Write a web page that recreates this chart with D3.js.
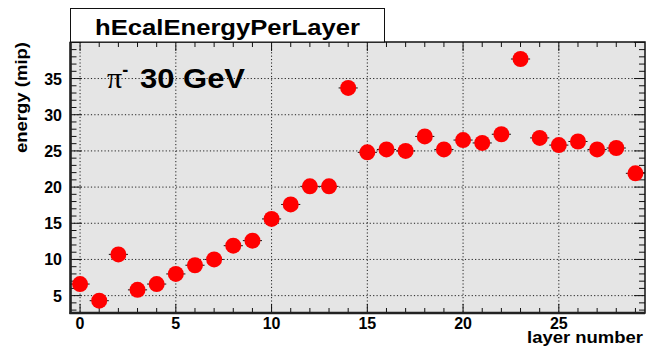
<!DOCTYPE html>
<html>
<head>
<meta charset="utf-8">
<script src="https://cdn.jsdelivr.net/npm/d3@7"></script>
<style>
  body { margin: 0; background: #fff; }
  text { font-family: "Liberation Sans", Arial, sans-serif; font-weight: bold; }
</style>
</head>
<body>
<div id="chart"></div>
<script>
// layer index and energy per layer (mip)
const layers = d3.range(0, 30);
const energy = [6.6, 4.3, 10.7, 5.8, 6.6, 8.0, 9.2, 10.0, 11.9, 12.6,
  15.6, 17.6, 20.1, 20.1, 33.7, 24.8, 25.2, 25.0, 27.0, 25.2,
  26.5, 26.1, 27.3, 37.7, 26.8, 25.8, 26.3, 25.2, 25.4, 21.9];
const xTicks = [0, 5, 10, 15, 20, 25];
const yTicks = [5, 10, 15, 20, 25, 30, 35];

const width = 647, height = 348;
const fLeft = 70.5, fRight = 645, fTop = 42, fBottom = 313;

const svg = d3.select('#chart')
  .append('svg')
  .attr('width', width)
  .attr('height', height);

const x = d3.scaleLinear().domain([-0.5, 29.5]).range([fLeft, fRight]);
const y = d3.scaleLinear().domain([2.6, 40.05]).range([fBottom, fTop]);

// frame background
svg.append('rect')
  .attr('x', fLeft).attr('y', fTop)
  .attr('width', fRight - fLeft).attr('height', fBottom - fTop)
  .attr('fill', '#e5e5e5');

// dotted grid at major ticks
svg.append('g')
  .selectAll('line')
  .data(xTicks)
  .enter()
  .append('line')
  .attr('x1', d => x(d)).attr('x2', d => x(d))
  .attr('y1', fTop).attr('y2', fBottom)
  .attr('stroke', '#222').attr('stroke-width', 1)
  .attr('stroke-dasharray', '1.2,2.2');

svg.append('g')
  .selectAll('line')
  .data(yTicks)
  .enter()
  .append('line')
  .attr('y1', d => y(d)).attr('y2', d => y(d))
  .attr('x1', fLeft).attr('x2', fRight)
  .attr('stroke', '#222').attr('stroke-width', 1)
  .attr('stroke-dasharray', '1.2,2.2');

// ticks: x minor every 1, major every 5 (bottom and top)
const xMinor = d3.range(0, 30);
const yMinor = d3.range(3, 41);
const tickG = svg.append('g').attr('stroke', '#111').attr('stroke-width', 1);
xMinor.forEach(v => {
  const len = v % 5 === 0 ? 9 : 5;
  tickG.append('line').attr('x1', x(v)).attr('x2', x(v)).attr('y1', fBottom).attr('y2', fBottom - len);
  tickG.append('line').attr('x1', x(v)).attr('x2', x(v)).attr('y1', fTop).attr('y2', fTop + len);
});
yMinor.forEach(v => {
  const len = v % 5 === 0 ? 11 : 6;
  tickG.append('line').attr('y1', y(v)).attr('y2', y(v)).attr('x1', fLeft).attr('x2', fLeft + len);
  tickG.append('line').attr('y1', y(v)).attr('y2', y(v)).attr('x1', fRight).attr('x2', fRight - len);
});

// frame border
svg.append('rect')
  .attr('x', fLeft).attr('y', fTop)
  .attr('width', fRight - fLeft).attr('height', fBottom - fTop)
  .attr('fill', 'none').attr('stroke', '#111').attr('stroke-width', 1.5);
svg.append('line')
  .attr('x1', fLeft).attr('x2', fLeft).attr('y1', fTop).attr('y2', fBottom + 1)
  .attr('stroke', '#222').attr('stroke-width', 2.5);
svg.append('line')
  .attr('x1', fLeft - 1).attr('x2', fRight).attr('y1', fBottom).attr('y2', fBottom)
  .attr('stroke', '#222').attr('stroke-width', 2.5);

// tick labels
svg.append('g')
  .selectAll('text')
  .data(xTicks)
  .enter()
  .append('text')
  .attr('x', d => x(d)).attr('y', 329)
  .attr('text-anchor', 'middle')
  .attr('font-size', 16)
  .text(d => d);

svg.append('g')
  .selectAll('text')
  .data(yTicks)
  .enter()
  .append('text')
  .attr('x', 62).attr('y', d => y(d) + 6)
  .attr('text-anchor', 'end')
  .attr('font-size', 16)
  .text(d => d);

// axis titles
svg.append('text')
  .attr('x', 527).attr('y', 343)
  .attr('font-size', 17)
  .attr('textLength', 116)
  .attr('lengthAdjust', 'spacingAndGlyphs')
  .text('layer number');

svg.append('text')
  .attr('transform', 'translate(27,153) rotate(-90)')
  .attr('font-size', 17)
  .attr('textLength', 111)
  .attr('lengthAdjust', 'spacingAndGlyphs')
  .text('energy (mip)');

// error bars (x half-width) then markers
svg.append('g')
  .selectAll('line')
  .data(layers)
  .enter()
  .append('line')
  .attr('x1', d => x(d - 0.5)).attr('x2', d => x(d + 0.5))
  .attr('y1', (d, i) => y(energy[i])).attr('y2', (d, i) => y(energy[i]))
  .attr('stroke', '#111').attr('stroke-width', 1);

svg.append('g')
  .selectAll('circle')
  .data(layers)
  .enter()
  .append('circle')
  .attr('cx', d => x(d))
  .attr('cy', (d, i) => y(energy[i]))
  .attr('r', 8)
  .attr('fill', '#ff0000');

// title box
svg.append('rect')
  .attr('x', 70.5).attr('y', 8.5)
  .attr('width', 314).attr('height', 33.5)
  .attr('fill', '#fff').attr('stroke', '#111').attr('stroke-width', 1);
svg.append('text')
  .attr('x', 95).attr('y', 35)
  .attr('font-size', 22)
  .attr('textLength', 265)
  .attr('lengthAdjust', 'spacingAndGlyphs')
  .text('hEcalEnergyPerLayer');

// particle label
const lab = svg.append('text').attr('x', 107).attr('y', 88);
lab.append('tspan')
  .style('font-family', '"Liberation Serif", "Times New Roman", serif')
  .style('font-weight', 'normal')
  .attr('font-size', 30)
  .text('π');
lab.append('tspan')
  .attr('dy', -12)
  .attr('font-size', 18)
  .text('-');
svg.append('text')
  .attr('x', 140).attr('y', 88)
  .attr('font-size', 27)
  .attr('textLength', 105)
  .attr('lengthAdjust', 'spacingAndGlyphs')
  .text('30 GeV');
</script>
</body>
</html>
